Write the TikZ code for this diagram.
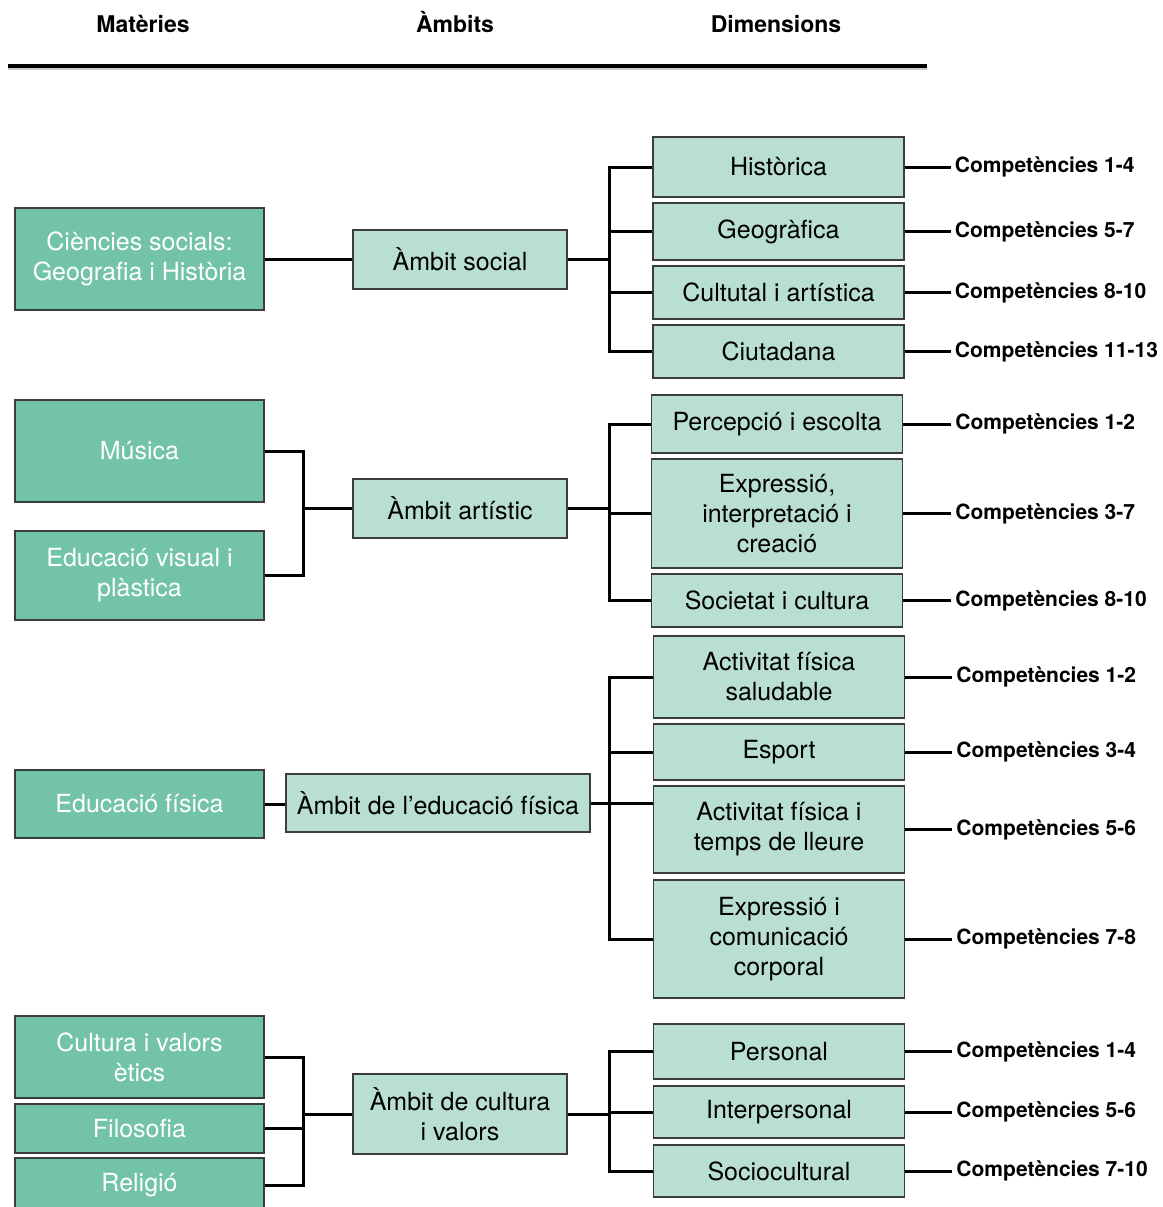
\documentclass[tikz,border=0pt]{standalone}
\usepackage{fontspec}
\setmainfont{TeX Gyre Heros}
\usetikzlibrary{positioning}

\definecolor{materia}{RGB}{115,195,170}
\definecolor{ambit}{RGB}{185,222,210}
\definecolor{vora}{RGB}{60,60,60}

\begin{document}
\begin{tikzpicture}[x=1pt,y=-1pt,
    materiabox/.style={draw=vora, line width=1.5pt, fill=materia, text=white,
        align=center, minimum width=249pt, inner sep=2pt,
        font=\fontsize{25}{30}\selectfont},
    ambitbox/.style={draw=vora, line width=1.5pt, fill=ambit, align=center,
        minimum width=214pt, inner sep=2pt, font=\fontsize{25}{30}\selectfont},
    dimbox/.style={draw=vora, line width=1.5pt, fill=ambit, align=center,
        minimum width=251pt, inner sep=2pt, font=\fontsize{25}{30}\selectfont},
    comp/.style={anchor=west, inner sep=4pt, font=\bfseries\fontsize{21}{25}\selectfont},
    header/.style={anchor=base, font=\bfseries\fontsize{23}{28}\selectfont},
    link/.style={line width=3pt, line join=miter}]

            \useasboundingbox (0,0) rectangle (1162,1207);
            \clip (0,0) rectangle (1162,1207);

            \def \xm{139.5};
            \def \xa{460};
            \def \xd{778.5};

            % headers
            \node[header] (hmat) at (143,33) {Matèries};
            \node[header] (hamb) at (455,33) {Àmbits};
            \node[header] (hdim) at (776,33) {Dimensions};
            \coordinate (hl) at (8,66);
            \coordinate (hr) at (927,66);
            \draw[line width=3pt, black!20] ([yshift=-3pt]hl) -- ([yshift=-3pt]hr);
            \draw[line width=4pt] (hl) -- (hr);

            % materies
            \node[materiabox, minimum height=102pt] (soc) at (\xm,259) {Ciències socials:\\Geografia i Història};
            \node[materiabox, minimum height=102pt] (mus) at (\xm,451) {Música};
            \node[materiabox, minimum height=89pt] (evp) at (\xm,575.5) {Educació visual i\\plàstica};
            \node[materiabox, minimum height=68pt] (ef) at (\xm,804) {Educació física};
            \node[materiabox, minimum height=82pt] (cve) at (\xm,1057) {Cultura i valors\\ètics};
            \node[materiabox, minimum height=49pt] (fil) at (\xm,1128.5) {Filosofia};
            \node[materiabox, minimum height=54pt] (rel) at (\xm,1185) {Religió};

            % ambits
            \node[ambitbox, minimum height=59pt] (asoc) at (\xa,259.5) {Àmbit social};
            \node[ambitbox, minimum height=59pt] (aart) at (\xa,508.5) {Àmbit artístic};
            \node[ambitbox, minimum height=58pt, minimum width=304pt] (aef) at (438,803) {Àmbit de l’educació física};
            \node[ambitbox, minimum height=80pt] (acv) at (\xa,1114) {Àmbit de cultura\\i valors};

            % dimensions
            \node[dimbox, minimum height=60pt] (hist) at (\xd,167) {Històrica};
            \node[dimbox, minimum height=57pt] (geo) at (\xd,231.5) {Geogràfica};
            \node[dimbox, minimum height=53pt] (cult) at (\xd,292.5) {Cultutal i artística};
            \node[dimbox, minimum height=53pt] (ciu) at (\xd,351.5) {Ciutadana};
            \node[dimbox, minimum height=58pt] (perc) at (777,424) {Percepció i escolta};
            \node[dimbox, minimum height=109pt] (expr) at (777,513.5) {Expressió,\\interpretació i\\creació};
            \node[dimbox, minimum height=53pt] (socc) at (777,600.5) {Societat i cultura};
            \node[dimbox, minimum height=82pt] (afs) at (779,677) {Activitat física\\saludable};
            \node[dimbox, minimum height=56pt] (esp) at (779,752) {Esport};
            \node[dimbox, minimum height=87pt] (aft) at (779,829.5) {Activitat física i\\temps de lleure};
            \node[dimbox, minimum height=118pt] (ecc) at (779,939) {Expressió i\\comunicació\\corporal};
            \node[dimbox, minimum height=55pt] (pers) at (779,1051.5) {Personal};
            \node[dimbox, minimum height=52pt] (inter) at (779,1112) {Interpersonal};
            \node[dimbox, minimum height=52pt] (scult) at (779,1171) {Sociocultural};

            % competencies
            \node[comp, right=46pt of hist] (c1) {Competències 1-4};
            \node[comp, right=46pt of geo] (c2) {Competències 5-7};
            \node[comp, right=46pt of cult] (c3) {Competències 8-10};
            \node[comp, right=46pt of ciu] (c4) {Competències 11-13};
            \node[comp, right=48pt of perc] (c5) {Competències 1-2};
            \node[comp, right=48pt of expr] (c6) {Competències 3-7};
            \node[comp, right=48pt of socc] (c7) {Competències 8-10};
            \node[comp, right=47pt of afs] (c8) {Competències 1-2};
            \node[comp, right=47pt of esp] (c9) {Competències 3-4};
            \node[comp, right=47pt of aft] (c10) {Competències 5-6};
            \node[comp, right=47pt of ecc] (c11) {Competències 7-8};
            \node[comp, right=47pt of pers] (c12) {Competències 1-4};
            \node[comp, right=47pt of inter] (c13) {Competències 5-6};
            \node[comp, right=47pt of scult] (c14) {Competències 7-10};

            \foreach \d/\c in {hist/c1,geo/c2,cult/c3,ciu/c4,perc/c5,expr/c6,socc/c7,
                    afs/c8,esp/c9,aft/c10,ecc/c11,pers/c12,inter/c13,scult/c14} {
                \draw[link] (\d.east) -- (\c.west);
            }

            % buses
            \coordinate (bus0) at (303,0);
            \coordinate (bus1) at (609,0);

            % social
            \draw[link] (soc.east) -- (soc.east -| asoc.west);
            \draw[link] (asoc.east) -- (asoc.east -| bus1);
            \draw[link] (hist.west) -- (hist.west -| bus1) -- (ciu.west -| bus1) -- (ciu.west);
            \foreach \d in {geo,cult} {
                \draw[link] (\d.west) -- (\d.west -| bus1);
            }

            % artistic
            \draw[link] (mus.east) -- (mus.east -| bus0) -- (evp.east -| bus0) -- (evp.east);
            \draw[link] (aart.west) -- (aart.west -| bus0);
            \draw[link] (aart.east) -- (aart.east -| bus1);
            \draw[link] (perc.west) -- (perc.west -| bus1) -- (socc.west -| bus1) -- (socc.west);
            \draw[link] (expr.west) -- (expr.west -| bus1);

            % educacio fisica
            \draw[link] (ef.east) -- (ef.east -| aef.west);
            \draw[link] (aef.east) -- (aef.east -| aft.west);
            \draw[link] (afs.west) -- (afs.west -| bus1) -- (ecc.west -| bus1) -- (ecc.west);
            \draw[link] (esp.west) -- (esp.west -| bus1);

            % cultura i valors
            \draw[link] (cve.east) -- (cve.east -| bus0) -- (rel.east -| bus0) -- (rel.east);
            \draw[link] (fil.east) -- (fil.east -| bus0);
            \draw[link] (acv.west) -- (acv.west -| bus0);
            \draw[link] (acv.east) -- (acv.east -| bus1);
            \draw[link] (pers.west) -- (pers.west -| bus1) -- (scult.west -| bus1) -- (scult.west);
            \draw[link] (inter.west) -- (inter.west -| bus1);

\end{tikzpicture}
\end{document}
